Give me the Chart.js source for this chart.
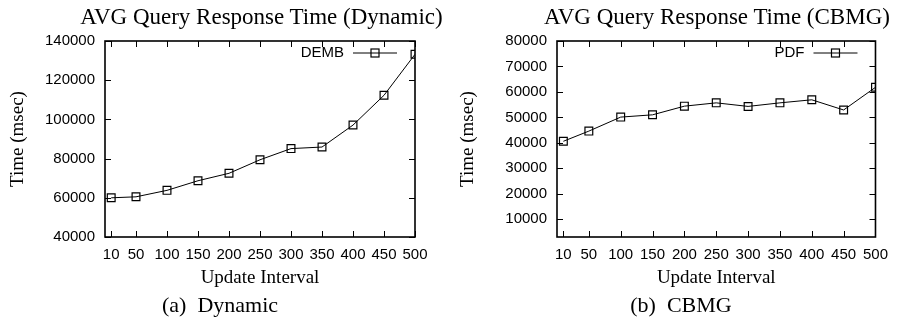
<!DOCTYPE html>
<html>
<head>
<meta charset="utf-8">
<script src="https://cdn.jsdelivr.net/npm/chart.js@4.4.1/dist/chart.umd.min.js"></script>
<style>
body { margin: 0; background: #fff; overflow: hidden; }
.panel { position: absolute; top: 0; height: 321px; }
.caption { position: absolute; top: 293px; width: 440px; text-align: center; font-family: "Liberation Serif"; font-size: 22px; line-height: 24px; white-space: pre; color: #000; }
.title { position: absolute; top: 4px; width: 500px; text-align: center; font-family: "Liberation Serif"; font-size: 23px; line-height: 26px; white-space: nowrap; color: #000; }
</style>
</head>
<body>
<div class="panel" style="left:0;width:450px"><canvas id="chart-a" width="450" height="321"></canvas></div>
<div class="panel" style="left:450px;width:447px"><canvas id="chart-b" width="447" height="321"></canvas></div>
<div class="title" style="left:11.5px">AVG Query Response Time (Dynamic)</div>
<div class="title" style="left:467px">AVG Query Response Time (CBMG)</div>
<div class="caption" style="left:0">(a)  Dynamic</div>
<div class="caption" style="left:461px">(b)  CBMG</div>
<script>
// update interval (x) and avg response time in msec
var intervals = [10, 50, 100, 150, 200, 250, 300, 350, 400, 450, 500];
var dembTimes = [60000, 60500, 63800, 68700, 72500, 79400, 85100, 85900, 97100, 112300, 133200];
var pdfTimes  = [40600, 44600, 50100, 51000, 54400, 55700, 54300, 55700, 56900, 52900, 61800];
var yTicksDynamic = [40000, 60000, 80000, 100000, 120000, 140000];
var yTicksCbmg = [10000, 20000, 30000, 40000, 50000, 60000, 70000, 80000];

var serif = 'Liberation Serif';
var sans = 'Liberation Sans';
Chart.defaults.color = '#000';
Chart.defaults.font.family = sans;

// gnuplot style box with inward ticks + key inside top right
var frameTicks = {
    id: 'frameTicks',
    beforeDatasetsDraw: function(chart) {
        var a = chart.chartArea, ctx = chart.ctx;
        var xs = chart.scales.x, ys = chart.scales.y;
        var tl = 6;
        ctx.save();
        ctx.strokeStyle = '#000';
        ctx.lineWidth = 1;
        ctx.beginPath();
        xs.ticks.forEach(function(t) {
            var px = Math.round(xs.getPixelForValue(t.value)) + 0.5;
            ctx.moveTo(px, a.bottom); ctx.lineTo(px, a.bottom - tl);
            ctx.moveTo(px, a.top); ctx.lineTo(px, a.top + tl);
        });
        ys.ticks.forEach(function(t) {
            var py = Math.round(ys.getPixelForValue(t.value)) + 0.5;
            ctx.moveTo(a.left, py); ctx.lineTo(a.left + tl, py);
            ctx.moveTo(a.right, py); ctx.lineTo(a.right - tl, py);
        });
        ctx.stroke();
        ctx.lineWidth = 1.6;
        ctx.strokeRect(a.left, a.top, a.right - a.left, a.bottom - a.top);
        ctx.restore();
    },
    afterDatasetsDraw: function(chart) {
        var a = chart.chartArea, ctx = chart.ctx;
        var y = a.top + 12;
        ctx.save();
        ctx.fillStyle = '#000';
        ctx.font = '15px ' + sans;
        ctx.textAlign = 'right';
        ctx.textBaseline = 'middle';
        ctx.fillText(chart.data.datasets[0].label, a.right - 71, y);
        ctx.strokeStyle = '#000';
        ctx.lineWidth = 1;
        ctx.beginPath();
        ctx.moveTo(a.right - 62, y); ctx.lineTo(a.right - 18, y);
        ctx.stroke();
        ctx.lineWidth = 1.2;
        ctx.strokeRect(a.right - 44, y - 4, 8, 8);
        ctx.restore();
    }
};

function makeChart(id, label, values, yTicks, yMin, yMax, yWidth, padRight) {
    var points = intervals.map(function(x, i) { return {x: x, y: values[i]}; });
    return new Chart(document.getElementById(id), {
        type: 'line',
        data: {
            datasets: [{
                label: label,
                data: points,
                borderColor: '#000',
                borderWidth: 1,
                pointStyle: 'rect',
                pointRadius: 5.5,
                pointBorderWidth: 1.2,
                pointBorderColor: '#000',
                pointBackgroundColor: 'rgba(0,0,0,0)',
                tension: 0
            }]
        },
        options: {
            responsive: false,
            animation: false,
            devicePixelRatio: 1,
            layout: {padding: {left: 0, top: 41, right: padRight, bottom: 29.4}},
            plugins: {
                legend: {display: false},
                tooltip: {enabled: false}
            },
            scales: {
                x: {
                    type: 'linear',
                    min: 0,
                    max: 500,
                    grid: {display: false, drawTicks: false},
                    border: {display: false},
                    ticks: {
                        autoSkip: false, maxRotation: 0, padding: 9,
                        font: {family: sans, size: 15},
                        callback: function(v) { return String(v); }
                    },
                    afterBuildTicks: function(s) {
                        s.ticks = intervals.map(function(v) { return {value: v}; });
                    },
                    afterFit: function(s) { s.height = 54.6; },
                    title: {
                        display: true,
                        text: 'Update Interval',
                        font: {family: serif, size: 19},
                        padding: {top: 0, bottom: 2.2}
                    }
                },
                y: {
                    min: yMin,
                    max: yMax,
                    grid: {display: false, drawTicks: false},
                    border: {display: false},
                    ticks: {
                        padding: 10,
                        font: {family: sans, size: 15},
                        callback: function(v) { return String(v); }
                    },
                    afterBuildTicks: function(s) {
                        s.ticks = yTicks.map(function(v) { return {value: v}; });
                    },
                    afterFit: function(s) { s.width = yWidth; },
                    title: {
                        display: true,
                        text: 'Time (msec)',
                        font: {family: serif, size: 19},
                        padding: {top: 6.6, bottom: 0}
                    }
                }
            }
        },
        plugins: [frameTicks]
    });
}

makeChart('chart-a', 'DEMB', dembTimes, yTicksDynamic, 40000, 140000, 105, 35);
makeChart('chart-b', 'PDF', pdfTimes, yTicksCbmg, 3000, 80000, 107, 21);
</script>
</body>
</html>
